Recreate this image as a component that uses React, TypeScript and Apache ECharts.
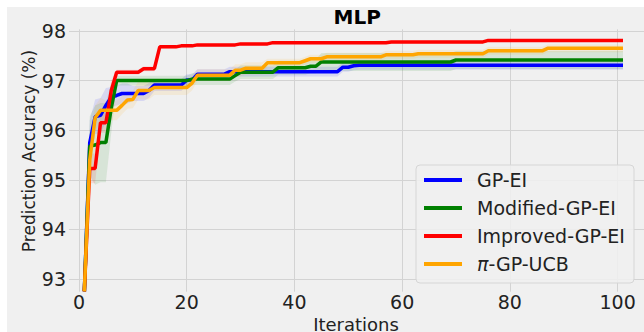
import React, { useEffect, useRef } from 'react';
import * as echarts from 'echarts';

// ---- data ----
const seriesNames = ['GP-EI', 'Modified-GP-EI', 'Improved-GP-EI', 'π-GP-UCB'];
const seriesColors = ['#0000ff', '#008000', '#ff0000', '#ffa500'];
const lastIteration = 101;
const xTicks = [0, 20, 40, 60, 80, 100];
const yTicks = [93, 94, 95, 96, 97, 98];

// step runs: [iteration where value starts, value held until next entry]
const gpEiRuns = [
  [1, 92.75], [2, 95.75], [3, 96.27], [4, 96.3], [5, 96.5], [6, 96.67], [7, 96.7], [8, 96.74],
  [13, 96.8], [14, 96.91], [20, 97.01], [22, 97.13], [28, 97.18], [49, 97.27], [51, 97.3], [52, 97.31],
];
const modifiedRuns = [
  [1, 92.75], [2, 95.68], [3, 95.7], [4, 95.75], [6, 96.45], [7, 97.0], [21, 97.03], [29, 97.1],
  [30, 97.17], [37, 97.26], [43, 97.29], [45, 97.375], [70, 97.415],
];
const improvedRuns = [
  [1, 92.75], [2, 95.23], [4, 96.15], [6, 96.8], [7, 97.17], [12, 97.24], [15, 97.68], [19, 97.7],
  [22, 97.72], [30, 97.74], [36, 97.765], [58, 97.78], [76, 97.81],
];
const piUcbRuns = [
  [1, 92.75], [2, 95.4], [3, 96.25], [4, 96.4], [8, 96.5], [9, 96.61], [10, 96.62], [11, 96.8],
  [14, 96.86], [21, 96.95], [22, 97.11], [29, 97.21], [31, 97.25], [35, 97.36], [42, 97.4],
  [43, 97.44], [46, 97.48], [57, 97.52], [63, 97.54], [76, 97.6], [87, 97.65],
];

// band half-widths (shaded spread), as step runs
const gpEiBand = [[1, 0.05], [2, 0.45], [3, 0.35], [6, 0.2], [10, 0.15], [14, 0.12], [22, 0.1], [49, 0.09]];
const modifiedBand = [[1, 0.05], [2, 0.6], [3, 0.8], [6, 0.5], [7, 0.1], [21, 0.12], [30, 0.14], [45, 0.18]];
const improvedBand = [[1, 0.05], [2, 0.3], [4, 0.2], [7, 0.05], [15, 0.04], [22, 0.03]];
const piUcbBand = [[1, 0.05], [2, 0.4], [3, 0.25], [5, 0.2], [8, 0.18], [14, 0.15], [22, 0.12], [35, 0.08]];

const allRuns = [gpEiRuns, modifiedRuns, improvedRuns, piUcbRuns];
const allBands = [gpEiBand, modifiedBand, improvedBand, piUcbBand];

function expandRuns(runs: number[][]): number[][] {
  const out: number[][] = [];
  let k = 0;
  for (let x = runs[0][0]; x <= lastIteration; x++) {
    while (k + 1 < runs.length && runs[k + 1][0] <= x) k++;
    out.push([x, runs[k][1]]);
  }
  return out;
}

function hexToRgba(hex: string, a: number) {
  const n = parseInt(hex.slice(1), 16);
  return `rgba(${(n >> 16) & 255},${(n >> 8) & 255},${n & 255},${a})`;
}

const FONT = 'DejaVu Sans';

export default function App() {
  const ref = useRef<HTMLDivElement>(null);
  useEffect(() => {
    if (!ref.current) return;
    const chart = echarts.init(ref.current, undefined, { renderer: 'svg', width: 644, height: 332 });

    const lines = allRuns.map(expandRuns);
    const bands = allBands.map(expandRuns);

    const bandSeries = lines.map((pts, i) => {
      const w = bands[i];
      return {
        type: 'custom',
        name: seriesNames[i] + ' band',
        z: 1,
        silent: true,
        clip: true,
        data: [[pts[0][0], pts[0][1]]],
        renderItem: (_params: any, api: any) => {
          const poly: number[][] = [];
          for (let j = 0; j < pts.length; j++) poly.push(api.coord([pts[j][0], pts[j][1] + w[j][1]]));
          for (let j = pts.length - 1; j >= 0; j--) poly.push(api.coord([pts[j][0], pts[j][1] - w[j][1]]));
          return {
            type: 'polygon',
            shape: { points: poly },
            style: { fill: hexToRgba(seriesColors[i], 0.1) },
          };
        },
      };
    });

    const lineSeries = lines.map((pts, i) => ({
      type: 'line',
      name: seriesNames[i],
      data: pts,
      showSymbol: false,
      symbol: 'none',
      z: 2 + i * 0.1,
      color: seriesColors[i],
      lineStyle: { width: 3.5, color: seriesColors[i] },
    }));

    chart.setOption({
      animation: false,
      backgroundColor: 'transparent',
      title: {
        text: 'MLP',
        left: 333.5,
        top: 6.5,
        padding: 0,
        textStyle: { fontFamily: FONT, fontSize: 20, fontWeight: 'bold', color: '#000', lineHeight: 20 },
      },
      grid: { left: 69, top: 29.3, width: 575.7, height: 262.4, containLabel: false },
      xAxis: {
        type: 'value',
        min: -1.85,
        max: 104.9,
        axisLine: { show: false },
        axisTick: { show: false, customValues: xTicks },
        axisLabel: { customValues: xTicks, fontFamily: FONT, fontSize: 19, color: '#222', margin: 1 },
        splitLine: { show: true, lineStyle: { color: '#d3d3d3', width: 1 } },
      },
      yAxis: {
        type: 'value',
        min: 92.744,
        max: 98.034,
        axisLine: { show: false },
        axisTick: { show: false, customValues: yTicks },
        axisLabel: { customValues: yTicks, fontFamily: FONT, fontSize: 19, color: '#222', margin: 3 },
        splitLine: { show: true, lineStyle: { color: '#d3d3d3', width: 1 } },
      },
      legend: {
        data: seriesNames,
        orient: 'vertical',
        left: 424,
        top: 170,
        padding: 0,
        itemWidth: 38,
        itemHeight: 4,
        itemGap: 8,
        icon: 'rect',
        z: 5,
        formatter: (name: string) => (name.startsWith('π') ? '{pi|π}' + name.slice(1) : name),
        textStyle: {
          fontFamily: FONT,
          fontSize: 19,
          color: '#222',
          lineHeight: 20,
          padding: [0, 0, 0, 10],
          rich: {
            pi: { fontFamily: FONT, fontSize: 19, fontStyle: 'italic', color: '#222', lineHeight: 20 },
          },
        },
      },
      graphic: [
        {
          type: 'rect',
          z: 4,
          silent: true,
          shape: { x: 416, y: 165, width: 218, height: 118, r: 4 },
          style: { fill: 'rgba(240,240,240,0.85)', stroke: '#d6d6d6', lineWidth: 1 },
        },
        {
          type: 'text',
          x: 29,
          y: 151,
          rotation: Math.PI / 2,
          silent: true,
          style: {
            text: 'Prediction Accuracy (%)',
            font: `17px "${FONT}"`,
            fill: '#222',
            textAlign: 'center',
            textVerticalAlign: 'middle',
          },
        },
        {
          type: 'text',
          x: 356,
          y: 324,
          silent: true,
          style: {
            text: 'Iterations',
            font: `18px "${FONT}"`,
            fill: '#222',
            textAlign: 'center',
            textVerticalAlign: 'middle',
          },
        },
      ],
      series: [...bandSeries, ...lineSeries],
    } as any);

    return () => chart.dispose();
  }, []);

  return (
    <div style={{ position: 'fixed', left: 0, top: 0, width: 644, height: 332, background: '#ffffff' }}>
      <div style={{ position: 'absolute', left: 7, top: 7, width: 637, height: 325, background: '#f0f0f0' }} />
      <div ref={ref} style={{ position: 'absolute', left: 0, top: 0, width: 644, height: 332 }} />
    </div>
  );
}
